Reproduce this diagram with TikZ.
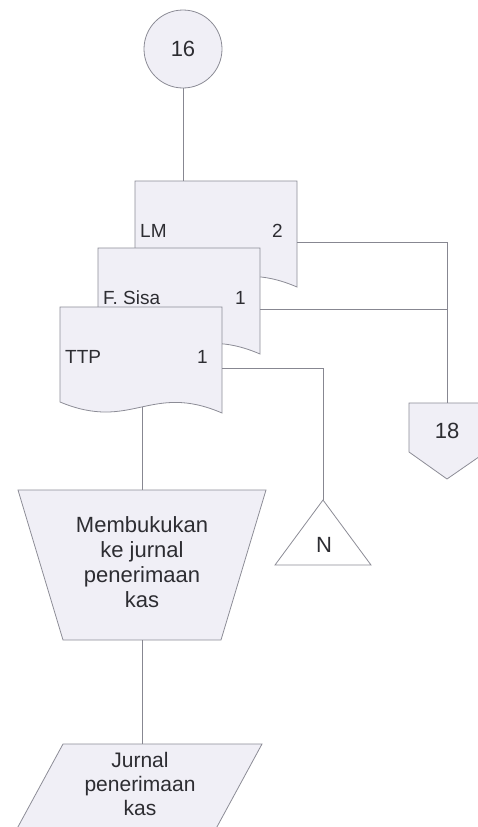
\documentclass[tikz,border=0pt]{standalone}
\usepackage{fontspec}
\setmainfont{Liberation Sans}
\usetikzlibrary{calc}
\definecolor{fillc}{RGB}{240,239,246}
\definecolor{edgec}{RGB}{140,140,150}
\definecolor{linec}{RGB}{135,135,145}
\definecolor{textc}{RGB}{45,45,50}
\tikzset{
  shapefill/.style={draw=edgec, line width=0.8pt, fill=fillc},
  conn/.style={draw=linec, line width=0.8pt},
  txt/.style={text=textc, inner sep=0pt, align=center, font=\fontsize{22}{25}\selectfont},
  doclab/.style={text=textc, inner sep=0pt, font=\fontsize{19}{22}\selectfont},
  pics/docshape/.style n args={2}{code={
    \draw[shapefill] (0,0) -- (162,0) -- (162,106) .. controls (90,75) and (72,125) .. (0,95) -- cycle;
    \node[doclab, anchor=base west] (-lab) at (5,56) {#1};
    \node[doclab, anchor=base east] (-num) at (148,56) {#2};
    \coordinate (-r) at (162,61);
    \coordinate (-b) at (82,100);
  }}
}
\begin{document}
\begin{tikzpicture}[x=1pt,y=-1pt]
\useasboundingbox (0,0) rectangle (478,827);

% on-page connector 16
\node[circle, shapefill, minimum size=78pt, txt] (c16) at (183,49) {16};
\coordinate (lmtop) at (183,181);
\draw[conn] (c16) -- (lmtop);

% documents
\pic (lm) at (135,181) {docshape={LM}{2}};
\pic (fs) at (98,248) {docshape={F. Sisa}{1}};
\pic (ttp) at (60,307) {docshape={TTP}{1}};

% off-page connector 18
\draw[shapefill] (409,403) -- (486,403) -- (486,452) -- (447,479) -- (409,452) -- cycle;
\node[txt] (o18) at (447,431) {18};
\coordinate (o18top) at (447,403);

% triangle N
\draw[shapefill, fill=white] (323,500) -- (371,565) -- (275,565) -- cycle;
\node[txt] (n) at (324,545) {N};
\coordinate (ntop) at (323,500);

% manual operation
\draw[shapefill] (18,490) -- (266,490) -- (221,640) -- (63,640) -- cycle;
\node[txt] (mb) at (142,562) {Membukukan\\ke jurnal\\penerimaan\\kas};
\coordinate (mbtop) at (142,490);
\coordinate (mbbot) at (142,640);

% journal (parallelogram)
\draw[shapefill] (63,744) -- (262,744) -- (212,836) -- (13,836) -- cycle;
\node[txt, font=\fontsize{21}{24}\selectfont] (jp) at (140,784) {Jurnal\\penerimaan\\kas};
\coordinate (jtop) at (142,744);

% connectors
\draw[conn] (lm-r) -| (o18top);
\draw[conn] (fs-r) -- (fs-r -| o18top);
\draw[conn] (ttp-r) -| (ntop);
\draw[conn] (ttp-b) -- (mbtop);
\draw[conn] (mbbot) -- (jtop);
\end{tikzpicture}
\end{document}
